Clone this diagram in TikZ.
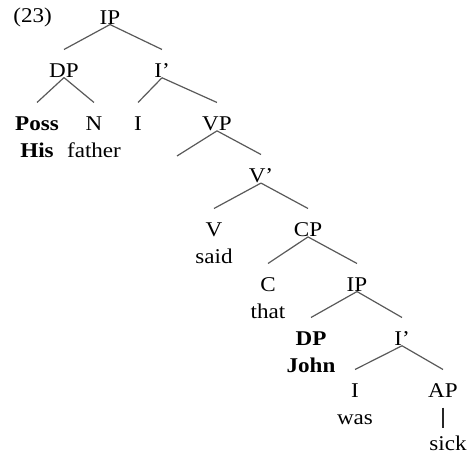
\documentclass[tikz,border=0pt]{standalone}
\usepackage{fontspec}
\setmainfont{Liberation Serif}[FakeStretch=1.1]
\usepackage{tikz}
\usetikzlibrary{positioning}
\usetikzlibrary{calc}

\begin{document}
\begin{tikzpicture}[
		x=0.5pt, y=-0.5pt,
		every node/.style = {
			inner sep=0pt,
			anchor=north,
			align=center,
			font=\fontsize{10.5}{13.5}\selectfont
		},
		bold/.style={font=\fontsize{10.5}{13.5}\selectfont\bfseries},
		branch/.style={draw=black!65, line width=0.6pt},
		stem/.style={draw=black!85, line width=0.6pt, shorten <=5pt, shorten >=4pt}
		]
		\useasboundingbox (0,0) rectangle (472,453);
		\node[anchor=base west] (num) at (13,23) {(23)};
		\node (ip0) at (110,10) {IP};
		\node (dp1) at (64,63) {DP};
		\node (ibar1) at (162,63) {I’};
		\node[bold] (poss) at (37,116) {Poss \\ His};
		\node (n) at (94,116) {N \\ father};
		\node (i1) at (138,116) {I};
		\node (vp) at (217,116) {VP};
		\coordinate (vpgap) at (177,156);
		\node (vbar) at (261,168) {V’};
		\node (v) at (214,222) {V \\ said};
		\node (cp) at (308,222) {CP};
		\node (c) at (268,277) {C \\ that};
		\node (ip2) at (357,277) {IP};
		\node[bold] (dp2) at (311,331) {DP \\ John};
		\node (ibar2) at (402,331) {I’};
		\node (i2) at (355,383) {I \\ was};
		\node (ap) at (443,383) {AP};
		\node (sick) at (448,436) {sick};
		\foreach \p/\c in {ip0/dp1, ip0/ibar1, dp1/poss, dp1/n, ibar1/i1, ibar1/vp,
				vp/vbar, vbar/v, vbar/cp, cp/c, cp/ip2, ip2/dp2, ip2/ibar2, ibar2/i2, ibar2/ap}
			\draw[branch] (\p.south) -- ([yshift=6.75pt]\c.north);
		\draw[branch] (vp.south) -- (vpgap);
		\draw[stem] (ap.south) -- (ap.south |- sick.north);
	\end{tikzpicture}
\end{document}
